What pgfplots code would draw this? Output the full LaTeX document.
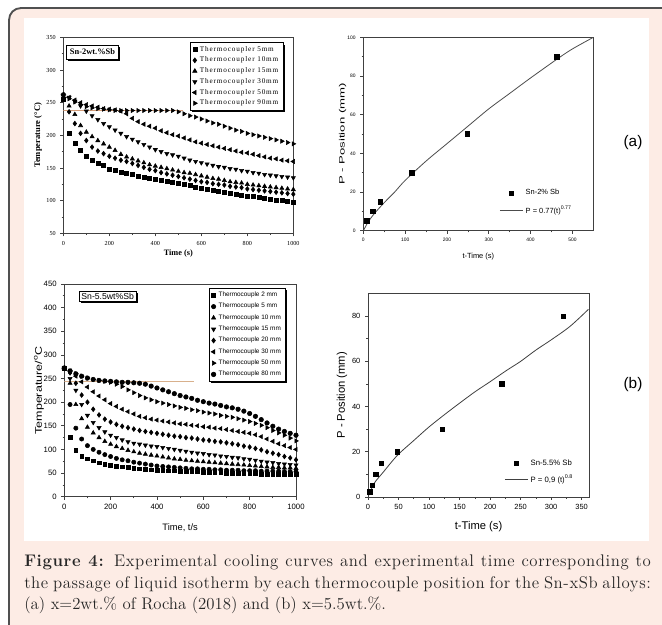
\documentclass[border=0pt]{standalone}
\usepackage{fontspec}
\usepackage{pgfplots}
\pgfplotsset{compat=1.18}
\usepackage{pgfplotstable}
\usetikzlibrary{shadows}
\newfontfamily\timesf{Liberation Serif}
\newfontfamily\timesls[LetterSpace=12]{Liberation Serif}
\newfontfamily\arialf{Liberation Sans}
\newfontfamily\capfont[LetterSpace=3.5]{Latin Modern Roman}
\definecolor{pinkbg}{HTML}{FDECE5}
\definecolor{framec}{HTML}{505050}
\definecolor{isoA}{HTML}{D39C78}
\definecolor{isoB}{HTML}{D8B08C}
\definecolor{axc}{HTML}{404040}

\pgfplotstableread{
t A B C D E F
0 255 262 262 262 262 262
25 203 236 245 258 258 256
50 188 218 232 252 254 251
75 177 203 215 245 250 247
100 168 192 205 237 247 244
125 162 182 198 230 245 242
150 158 176 192 224 243 241
175 154 172 187 218 241 240
200 148 168 182 213 240 239
225 146 165 177 208 239 238
250 143 162 171 203 237 238
275 142 160 167 198 233 238
300 140 157 164 194 226 238
325 138 154 161 190 221 238
350 136 151 158 186 217 238
375 135 148 155 182 214 238
400 133 146 153 178 211 238
425 131 143 151 175 207 238
450 130 141 149 172 204 238
475 128 139 147 170 201 238
500 126 137 145 168 199 236
525 125 135 143 165 196 233
550 123 133 142 162 193 230
575 121 131 140 160 190 228
600 119 129 138 158 188 225
625 118 128 136 156 186 222
650 116 126 134 154 184 219
675 114 125 133 152 182 217
700 113 124 131 151 180 214
725 111 122 129 149 178 211
750 110 121 128 148 176 208
775 108 120 127 146 174 206
800 107 118 125 145 173 203
825 106 117 124 143 171 201
850 105 116 123 142 169 199
875 103 115 122 140 167 197
900 102 114 121 139 165 195
925 101 113 120 138 164 193
950 100 112 119 137 162 191
975 99 111 118 136 161 189
1000 98 110 117 135 160 187
}\tlData

\pgfplotstableread{
t a b c d e f g h
0 272 272 272 272 272 272 272 272
25 125 195 240 250 262 266 266 266
50 98 145 195 225 240 255 260 260
75 86 122 165 195 215 243 255 255
100 80 108 147 172 200 232 251 251
125 76 100 135 157 185 222 248 248
150 72 94 125 146 173 213 246 246
175 69 89 117 137 164 205 244 245
200 67 85 111 130 158 197 242 244
225 65 81 106 125 153 191 238 243
250 63 78 102 120 149 185 233 242
275 62 76 98 116 146 180 226 242
300 60 73 95 113 143 175 220 241
325 59 71 92 111 140 170 214 240
350 58 69 90 109 138 167 209 238
375 57 67 88 107 136 164 205 234
400 56 65 86 106 134 162 201 230
425 56 64 84 104 132 160 198 226
450 55 63 82 102 130 158 195 222
475 55 62 80 100 128 156 192 218
500 54 61 79 98 127 154 189 214
525 54 60 77 96 125 153 187 211
550 53 59 76 94 124 151 184 208
575 53 59 75 92 122 150 182 204
600 52 58 74 91 120 148 179 201
625 52 58 73 89 119 147 177 198
650 51 57 72 88 117 145 175 196
675 51 57 71 86 116 144 172 193
700 50 56 70 85 114 142 170 190
725 50 56 69 83 112 140 168 188
750 50 56 68 82 110 138 165 185
775 49 55 67 80 107 136 162 181
800 49 55 66 79 105 134 159 176
825 49 55 65 77 102 131 155 170
850 48 54 64 75 99 127 151 163
875 48 54 63 73 95 122 146 156
900 48 54 62 72 92 117 140 149
925 48 54 62 70 89 112 135 143
950 47 53 61 69 85 108 130 138
975 47 53 61 68 82 104 124 134
1000 47 53 60 67 78 100 118 130
}\blData

\tikzset{shad/.style={drop shadow={shadow xshift=1.3pt, shadow yshift=-1.3pt, opacity=1, fill=black}}}
\pgfplotsset{
  common/.style={
    scale only axis, anchor=south west,
    tick align=outside, xtick pos=left, ytick pos=left,
    minor x tick num=1, minor y tick num=1,
    axis line style={axc, line width=0.6pt},
    every tick/.style={axc, line width=0.5pt},
    major tick length=2.2pt, minor tick length=1.3pt,
    /pgf/number format/assume math mode=true,
    /pgf/number format/1000 sep={},
    scaled ticks=false,
    clip=true,
  },
}

\begin{document}
\begin{tikzpicture}
\useasboundingbox (0,0) rectangle (496.5pt,-468.75pt);
\fill[pinkbg, rounded corners=9pt] (6.75pt,-490pt) -- (6.75pt,-6pt) -- (520pt,-6pt) -- (520pt,-490pt) -- cycle;
\draw[framec, line width=1.4pt, rounded corners=9pt] (6.75pt,-490pt) -- (6.75pt,-6pt) -- (520pt,-6pt);
\fill[white] (18pt,-13.5pt) rectangle (486.75pt,-405.75pt);

% ---------------- top left ----------------
\begin{axis}[common,
  at={(47.5pt,-175pt)}, width=172.5pt, height=147pt,
  xmin=0, xmax=1000, ymin=50, ymax=350,
  xtick={0,200,...,1000}, ytick={50,100,...,350},
  tick label style={font=\timesf\fontsize{4.6}{5}\selectfont},
  xlabel={\bfseries Time (s)},
  xlabel style={font=\timesf\fontsize{6.2}{7}\selectfont, at={(axis description cs:0.5,0)}, anchor=center, yshift=-15pt},
  ylabel={\bfseries Temperature (°C)},
  ylabel style={font=\timesf\fontsize{6.4}{7}\selectfont, at={(axis description cs:0,0.5)}, anchor=center, yshift=19pt},
  legend style={at={(0.957,0.974)}, anchor=north east, draw=black, line width=0.5pt, fill=white,
    font=\timesls\fontsize{5.4}{5.6}\selectfont, shad, row sep=1pt, inner sep=1.6pt,
    nodes={inner ysep=0.9pt}},
  legend cell align=left,
  legend image code/.code={\draw[mark repeat=2,mark phase=2] plot coordinates {(0cm,0cm) (0.25cm,0cm) (0.5cm,0cm)};},
]
\addplot[isoA, line width=0.8pt, forget plot] coordinates {(0,238) (520,238)};
\addplot[only marks, mark=square*, mark size=1.5pt, black] table[x=t,y=A] {\tlData};
\addlegendentry{Thermocoupler 5mm}
\addplot[only marks, mark=diamond*, mark size=1.8pt, black] table[x=t,y=B] {\tlData};
\addlegendentry{Thermocoupler 10mm}
\addplot[only marks, mark=triangle*, mark size=1.8pt, black] table[x=t,y=C] {\tlData};
\addlegendentry{Thermocoupler 15mm}
\addplot[only marks, mark=triangle*, mark options={rotate=180}, mark size=1.8pt, black] table[x=t,y=D] {\tlData};
\addlegendentry{Thermocoupler 30mm}
\addplot[only marks, mark=triangle*, mark options={rotate=90}, mark size=1.8pt, black] table[x=t,y=E] {\tlData};
\addlegendentry{Thermocoupler 50mm}
\addplot[only marks, mark=triangle*, mark options={rotate=-90}, mark size=1.8pt, black] table[x=t,y=F] {\tlData};
\addlegendentry{Thermocoupler 90mm}
\node[draw=black, line width=0.5pt, fill=white, shad, anchor=north west, inner xsep=2.5pt, inner ysep=3pt,
  font=\timesf\bfseries\fontsize{6.3}{7}\selectfont] at (rel axis cs:0.013,0.962) {Sn-2wt.\%Sb};
\end{axis}

% ---------------- top right ----------------
\begin{axis}[common,
  at={(272.5pt,-173pt)}, width=172.5pt, height=145pt,
  xmin=0, xmax=550, ymin=0, ymax=100,
  xtick={0,100,...,500}, ytick={0,20,...,100},
  tick label style={font=\arialf\fontsize{3.7}{4}\selectfont},
  xlabel={t-Time (s)},
  xlabel style={font=\arialf\fontsize{5.6}{6}\selectfont, at={(axis description cs:0.5,0)}, anchor=center, yshift=-19.5pt},
  ylabel={\scalebox{1.7}[1]{P - Position (mm)}},
  ylabel style={font=\arialf\fontsize{5.8}{6}\selectfont, at={(axis description cs:0,0.5)}, anchor=center, yshift=15.5pt},
  legend style={at={(0.585,0.235)}, anchor=north west, draw=none, fill=none,
    font=\arialf\fontsize{5.6}{6}\selectfont, row sep=3pt, inner sep=1pt},
  legend cell align=left,
]
\addplot[only marks, mark=square*, mark size=1.7pt, black] coordinates {(8,5) (22,10) (41,15) (116,30) (248,50) (462,90)};
\addlegendentry{Sn-2\% Sb}
\addplot[no marks, smooth, black!70, line width=0.6pt] coordinates {(0,0) (5,2) (10,4) (25,8.5) (50,14.5) (75,20) (100,26) (150,36) (200,45) (250,54) (300,63) (350,71) (400,79) (465,89) (500,94) (550,100)};
\addlegendentry{P = 0.77(t)\textsuperscript{0.77}}
\end{axis}

% ---------------- bottom left ----------------
\begin{axis}[common,
  at={(48.2pt,-372.5pt)}, width=173.8pt, height=159.5pt,
  xmin=0, xmax=1000, ymin=0, ymax=450,
  xtick={0,200,...,1000}, ytick={0,50,...,450},
  tick label style={font=\arialf\fontsize{5.8}{6}\selectfont},
  xlabel={Time, t/s},
  xlabel style={font=\arialf\fontsize{7}{8}\selectfont, at={(axis description cs:0.5,0)}, anchor=center, yshift=-23pt},
  ylabel={\scalebox{1.3}[1]{Temperature/\textsuperscript{o}C}},
  ylabel style={font=\arialf\fontsize{7.2}{8}\selectfont, at={(axis description cs:0,0.5)}, anchor=center, yshift=19pt},
  legend style={at={(0.957,0.981)}, anchor=north east, draw=black, line width=0.5pt, fill=white,
    font=\arialf\fontsize{4.8}{5}\selectfont, shad, row sep=1.3pt, inner sep=1.6pt,
    nodes={inner ysep=1.1pt}},
  legend cell align=left,
  legend image code/.code={\draw[mark repeat=2,mark phase=2] plot coordinates {(0cm,0cm) (0.25cm,0cm) (0.5cm,0cm)};},
]
\addplot[isoB, line width=0.8pt, forget plot] coordinates {(0,243) (562,243)};
\addplot[only marks, mark=square*, mark size=1.4pt, black] table[x=t,y=a] {\blData};
\addlegendentry{Thermocouple 2 mm}
\addplot[only marks, mark=*, mark size=1.6pt, black] table[x=t,y=b] {\blData};
\addlegendentry{Thermocouple 5 mm}
\addplot[only marks, mark=triangle*, mark size=1.8pt, black] table[x=t,y=c] {\blData};
\addlegendentry{Thermocouple 10 mm}
\addplot[only marks, mark=triangle*, mark options={rotate=180}, mark size=1.8pt, black] table[x=t,y=d] {\blData};
\addlegendentry{Thermocouple 15 mm}
\addplot[only marks, mark=diamond*, mark size=1.8pt, black] table[x=t,y=e] {\blData};
\addlegendentry{Thermocouple 20 mm}
\addplot[only marks, mark=triangle*, mark options={rotate=90}, mark size=1.8pt, black] table[x=t,y=f] {\blData};
\addlegendentry{Thermocouple 30 mm}
\addplot[only marks, mark=triangle*, mark options={rotate=-90}, mark size=1.8pt, black] table[x=t,y=g] {\blData};
\addlegendentry{Thermocouple 50 mm}
\addplot[only marks, mark=*, mark size=1.7pt, black] table[x=t,y=h] {\blData};
\addlegendentry{Thermocouple 80 mm}
\node[draw=black, line width=0.5pt, fill=white, shad, anchor=north west, inner xsep=1.5pt, inner ysep=1.5pt,
  font=\arialf\fontsize{6.5}{7}\selectfont] at (rel axis cs:0.064,0.967) {Sn-5.5wt\%Sb};
\end{axis}

% ---------------- bottom right ----------------
\begin{axis}[common,
  at={(276pt,-372.75pt)}, width=165.75pt, height=152.6pt,
  xmin=0, xmax=362, ymin=0, ymax=90,
  xtick={0,50,...,350}, ytick={0,20,...,80},
  tick label style={font=\arialf\fontsize{5.6}{6}\selectfont},
  xlabel={t-Time (s)},
  xlabel style={font=\arialf\fontsize{8.4}{9}\selectfont, at={(axis description cs:0.5,0)}, anchor=center, yshift=-22.5pt},
  ylabel={P - Position (mm)},
  ylabel style={font=\arialf\fontsize{8.4}{9}\selectfont, at={(axis description cs:0,0.5)}, anchor=center, yshift=19.5pt},
  legend style={at={(0.61,0.205)}, anchor=north west, draw=none, fill=none,
    font=\arialf\fontsize{5.8}{6}\selectfont, row sep=2pt, inner sep=1pt},
  legend cell align=left,
]
\addplot[only marks, mark=square*, mark size=1.7pt, black] coordinates {(2.7,2.2) (7,5.2) (12.5,10) (22,15) (48,20) (122,30) (219,50) (320,80)};
\addlegendentry{Sn-5.5\% Sb}
\addplot[no marks, smooth, black!75, line width=0.6pt] coordinates {(0,0) (10,6) (25,11) (48,18.4) (75,25) (100,31) (127,36.8) (150,41.5) (175,46.5) (200,51) (227,56) (250,60) (275,65) (300,69.5) (331,75.5) (361,83)};
\addlegendentry{P = 0,9 (t)\textsuperscript{0.8}}
\end{axis}

\node[font=\arialf\fontsize{11.5}{13}\selectfont] at (474.75pt,-107.25pt) {(a)};
\node[font=\arialf\fontsize{11.5}{13}\selectfont] at (474.75pt,-288.75pt) {(b)};

\begin{scope}[color=black!85]
\node[anchor=base west, inner sep=0pt] at (18pt,-424.5pt) {\capfont\fontsize{12.6}{14}\selectfont\makebox[470pt][s]{\textbf{Figure 4:} Experimental cooling curves and experimental time corresponding to}};
\node[anchor=base west, inner sep=0pt] at (18pt,-441pt) {\capfont\fontsize{12.6}{14}\selectfont\makebox[470pt][s]{the passage of liquid isotherm by each thermocouple position for the Sn-xSb alloys:}};
\node[anchor=base west, inner sep=0pt] at (18pt,-456.75pt) {\fontsize{12.6}{14}\selectfont (a) x=2wt.\% of Rocha (2018) and (b) x=5.5wt.\%.};
\end{scope}
\end{tikzpicture}
\end{document}
